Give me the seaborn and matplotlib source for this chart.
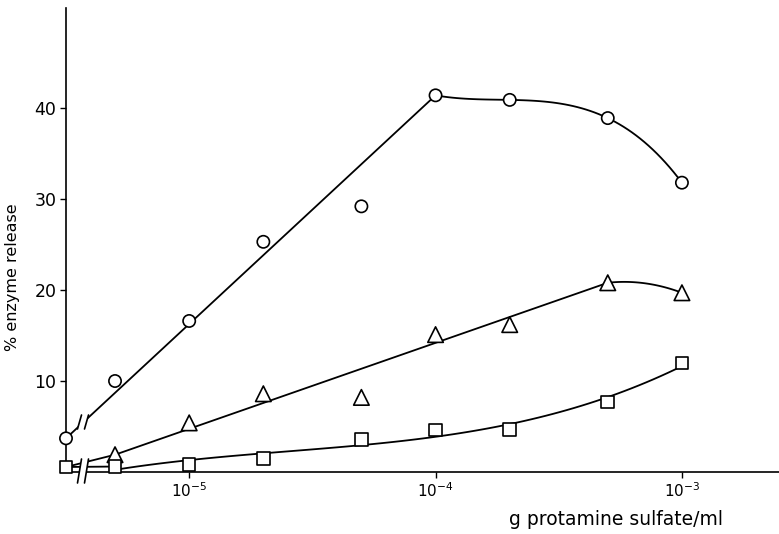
import numpy as np
import pandas as pd
import matplotlib
matplotlib.use("Agg")
import matplotlib.pyplot as plt
from matplotlib.lines import Line2D
from matplotlib.patches import Polygon
import seaborn as sns

# datos
conc = np.array([0, 5e-6, 1e-5, 2e-5, 5e-5, 1e-4, 2e-4, 5e-4, 1e-3])  # g/ml, 0 = control
circulos = [3.7, 10.0, 16.6, 25.3, 29.2, 41.4, 40.9, 38.9, 31.8]
triangulos = [np.nan, 1.9, 5.4, 8.6, 8.2, 15.1, 16.2, 20.8, 19.7]
cuadrados = [0.55, 0.6, 0.85, 1.5, 3.6, 4.6, 4.7, 7.7, 12.0]
yticks = [10, 20, 30, 40]
xticks = [1e-5, 1e-4, 1e-3]

X_CERO = -5.5  # donde se dibuja el control (sobre el eje, despues del corte)

sns.set_style("ticks")
plt.rcParams["font.family"] = ["DejaVu Sans"]
plt.rcParams["mathtext.fontset"] = "dejavusans"
for k in ["text.color", "axes.labelcolor", "xtick.color", "ytick.color"]:
    plt.rcParams[k] = "black"

lx = np.where(conc > 0, np.log10(np.where(conc > 0, conc, 1)), X_CERO)

df = pd.DataFrame({
    "x": np.tile(lx, 3),
    "y": circulos + triangulos + cuadrados,
    "serie": ["o"] * 9 + ["t"] * 9 + ["s"] * 9,
}).dropna()

fig = plt.figure(figsize=(7.79, 5.34), dpi=100)
ax = fig.add_axes([66 / 779, 62 / 534, 713 / 779, 464 / 534])

lw = 1.3
# circulos: recta hasta 1e-4 y curva suave despues
ax.plot([lx[0], lx[5]], [circulos[0], circulos[5]], color="black", lw=lw, zorder=2)
p = np.polyfit(lx[5:], circulos[5:], 3)
xs = np.linspace(lx[5], lx[8], 60)
ax.plot(xs, np.polyval(p, xs), color="black", lw=lw, zorder=2)

# triangulos: recta desde el control hasta 5e-4 y curva hasta 1e-3
ax.plot([lx[0], lx[1], lx[7]], [cuadrados[0], triangulos[1], triangulos[7]], color="black", lw=lw, zorder=2)
p = np.polyfit(lx[6:], triangulos[6:], 2)
xs = np.linspace(lx[7], lx[8], 40)
ax.plot(xs, np.polyval(p, xs), color="black", lw=lw, zorder=2)

# cuadrados: curva ajustada
ax.plot([lx[0], lx[1]], [cuadrados[0], cuadrados[1]], color="black", lw=lw, zorder=2)
p = np.polyfit(lx[1:], cuadrados[1:], 3)
xs = np.linspace(lx[1], lx[8], 80)
ax.plot(xs, np.polyval(p, xs), color="black", lw=lw, zorder=2)

sns.scatterplot(data=df, x="x", y="y", style="serie",
                markers={"o": "o", "t": "^", "s": "s"}, size="serie",
                sizes={"o": 78, "t": 125, "s": 82},
                color="white", edgecolor="black", linewidth=1.2,
                legend=False, ax=ax, zorder=3, clip_on=False)

ax.set_xlim(X_CERO, -2.606)
ax.set_ylim(0, 51)
ax.set_yticks(yticks)
ax.set_yticklabels([str(v) for v in yticks], fontsize=12.5)
ax.set_xticks(np.log10(xticks))
ax.set_xticklabels([r"$10^{%d}$" % round(np.log10(v)) for v in xticks], fontsize=11)
ax.tick_params(axis="both", direction="out", length=4, width=1, color="black", pad=3)
sns.despine(ax=ax)
for s in ["left", "bottom"]:
    ax.spines[s].set_linewidth(1.2)
    ax.spines[s].set_color("black")

ax.set_xlabel("g protamine sulfate/ml", fontsize=13.5)
ax.xaxis.set_label_coords(0.772, -0.082)
ax.set_ylabel("% enzyme release", fontsize=11.5)
ax.yaxis.set_label_coords(-0.064, 0.42)


# marcas de corte "//" (en pixeles de la figura)
def corte(xc, yc, alto, sep=7, incl=4):
    def f(px, py):
        return (px / 779, 1 - py / 534)
    x1, x2 = xc - sep / 2, xc + sep / 2
    pts = [f(x1 - incl / 2, yc + alto / 2), f(x1 + incl / 2, yc - alto / 2),
           f(x2 + incl / 2, yc - alto / 2), f(x2 - incl / 2, yc + alto / 2)]
    fig.add_artist(Polygon(pts, closed=True, facecolor="white", edgecolor="none", zorder=5))
    for xx in (x1, x2):
        fig.add_artist(Line2D([(xx - incl / 2) / 779, (xx + incl / 2) / 779],
                              [1 - (yc + alto / 2) / 534, 1 - (yc - alto / 2) / 534],
                              color="black", lw=1.2, zorder=6))


corte(83, 422, 14)
corte(83, 471, 24)

fig.savefig("out.png", dpi=100)
